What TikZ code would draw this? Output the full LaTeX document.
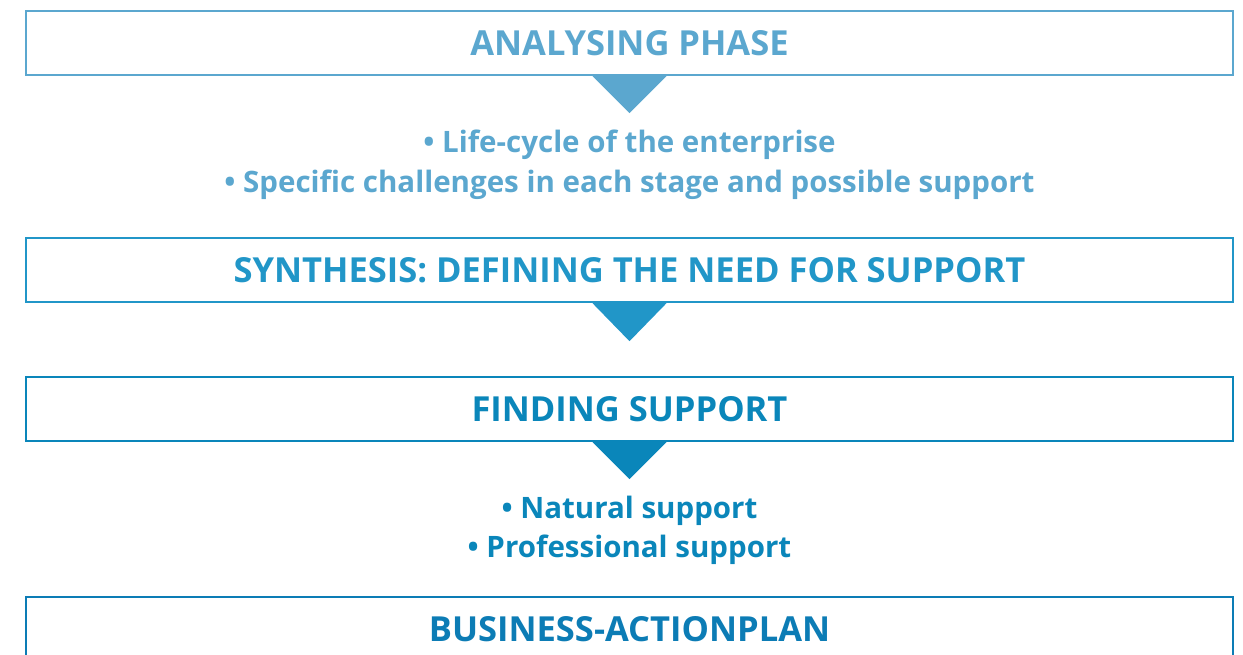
\documentclass[tikz,border=0pt]{standalone}
\usepackage{fontspec}
\setmainfont{Open Sans}[UprightFont=* Bold]
\usetikzlibrary{calc}
\definecolor{cA}{RGB}{91,167,207}
\definecolor{cB}{RGB}{33,150,200}
\definecolor{cC}{RGB}{10,134,186}
\definecolor{cD}{RGB}{12,124,181}
\tikzset{
  phasebox/.style={draw=#1, line width=2.4pt, fill=white, minimum width=1207pt,
    minimum height=64pt, inner sep=0pt, text=#1, font=\fontsize{34.5}{38}\selectfont},
  bulletline/.style={text=#1, font=\fontsize{29.5}{33}\selectfont, inner sep=0pt}
}
\begin{document}
\begin{tikzpicture}[x=1pt,y=-1pt]
\useasboundingbox (0,0) rectangle (1243,655);
\clip (0,0) rectangle (1243,655);

% phase boxes
\node[phasebox=cA] (p1) at (629.5,43) {ANALYSING PHASE};
\node[phasebox=cB] (p2) at (629.5,270) {SYNTHESIS: DEFINING THE NEED FOR SUPPORT};
\node[phasebox=cC] (p3) at (629.5,409) {FINDING SUPPORT};
\node[phasebox=cD, minimum height=120pt, anchor=north] (p4) at (629.5,596) {};
\node[text=cD, font=\fontsize{34.5}{38}\selectfont, inner sep=0pt] (p4t) at (629.5,629) {BUSINESS-ACTIONPLAN};

% pointers under the boxes
\fill[cA] ($(p1.south)+(-37,0)$) -- ($(p1.south)+(37,0)$) -- ($(p1.south)+(0,37)$) -- cycle;
\fill[cB] ($(p2.south)+(-37,0)$) -- ($(p2.south)+(37,0)$) -- ($(p2.south)+(0,38)$) -- cycle;
\fill[cC] ($(p3.south)+(-37,0)$) -- ($(p3.south)+(37,0)$) -- ($(p3.south)+(0,37)$) -- cycle;

% bullet lists
\node[bulletline=cA] (l1) at (629.5,145) {• Life-cycle of the enterprise};
\node[bulletline=cA] (l2) at (629.5,185) {• Specific challenges in each stage and possible support};
\node[bulletline=cC] (l3) at (629.5,511) {• Natural support};
\node[bulletline=cC] (l4) at (629.5,550) {• Professional support};
\end{tikzpicture}
\end{document}
